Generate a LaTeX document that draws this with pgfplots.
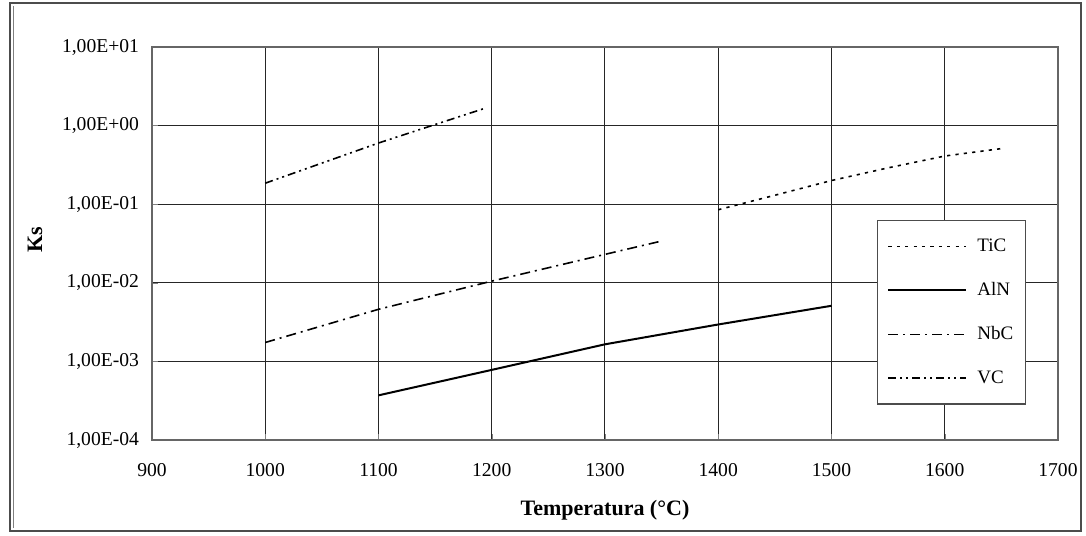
\documentclass[border=0pt]{standalone}
\usepackage{pgfplots}
\pgfplotsset{compat=1.18}
\usepackage{fontspec}
\setmainfont{Liberation Serif}
\begin{document}
\begin{tikzpicture}
\useasboundingbox (-76pt,-47.5pt) rectangle (467pt,220pt);
\draw[black!70, line width=0.8pt] (-71pt,-45.5pt) rectangle (464.5pt,218.5pt);
\draw[black!50, line width=0.4pt] (-69.5pt,-44pt) -- (-69.5pt,217pt);
\begin{axis}[
  at={(0pt,0pt)}, anchor=south west,
  scale only axis,
  width=453pt, height=196.5pt,
  xmin=900, xmax=1700,
  ymode=log, ymin=1e-4, ymax=10,
  xtick={900,1000,...,1700},
  ytick={1e-4,1e-3,1e-2,1e-1,1,10},
  yticklabels={{1,00E-04},{1,00E-03},{1,00E-02},{1,00E-01},{1,00E+00},{1,00E+01}},
  yminorticks=false,
  xticklabel style={/pgf/number format/1000 sep={}},
  /pgf/number format/assume math mode=true,
  ticklabel style={font=\fontsize{9.8}{11}\selectfont},
  xticklabel style={yshift=-8pt},
  yticklabel style={xshift=-3pt},
  tick align=inside,
  major tick length=3pt,
  xtick pos=bottom, ytick pos=left,
  grid=major,
  major grid style={black!85, line width=0.5pt},
  axis line style={black!60, line width=1pt},
  xlabel={\textbf{Temperatura (°C)}},
  xlabel style={font=\fontsize{11}{13}\selectfont, at={(axis description cs:0.5,0)}, anchor=center, yshift=-35pt},
  ylabel={\textbf{Ks}},
  ylabel style={font=\fontsize{11}{13}\selectfont, at={(axis description cs:0,0.51)}, anchor=center, yshift=58.5pt},
  legend style={at={(0.8,0.56)}, anchor=north west, draw=black!70, line width=0.6pt, fill=white,
    font=\fontsize{9.5}{11}\selectfont, row sep=12pt, inner xsep=5pt, inner ysep=8pt,
    nodes={inner sep=1pt},
    /tikz/every odd column/.append style={column sep=4pt}},
  legend cell align=left,
  legend image code/.code={\draw[#1] (0pt,0pt) -- (39pt,0pt);},
]
\addplot[black, line width=0.8pt, dash pattern=on 1.6pt off 2.6pt] coordinates {
(1400,0.085) (1450,0.13) (1500,0.20) (1550,0.29) (1600,0.41) (1650,0.51)};
\addlegendentry{TiC}
\addplot[black, line width=1pt] coordinates {
(1100,3.7e-4) (1200,7.8e-4) (1300,1.65e-3) (1400,2.95e-3) (1500,5.1e-3)};
\addlegendentry{AlN}
\addplot[black, line width=0.8pt, dash pattern=on 5pt off 2.5pt on 1pt off 2.5pt] coordinates {
(1000,1.74e-3) (1100,4.6e-3) (1200,0.0105) (1300,0.023) (1350,0.034)};
\addlegendentry{NbC}
\addplot[black, line width=0.8pt, dash pattern=on 4pt off 2pt on 1pt off 2pt on 1pt off 2pt] coordinates {
(1000,0.185) (1100,0.60) (1195,1.68)};
\addlegendentry{VC}
\end{axis}
\end{tikzpicture}
\end{document}
